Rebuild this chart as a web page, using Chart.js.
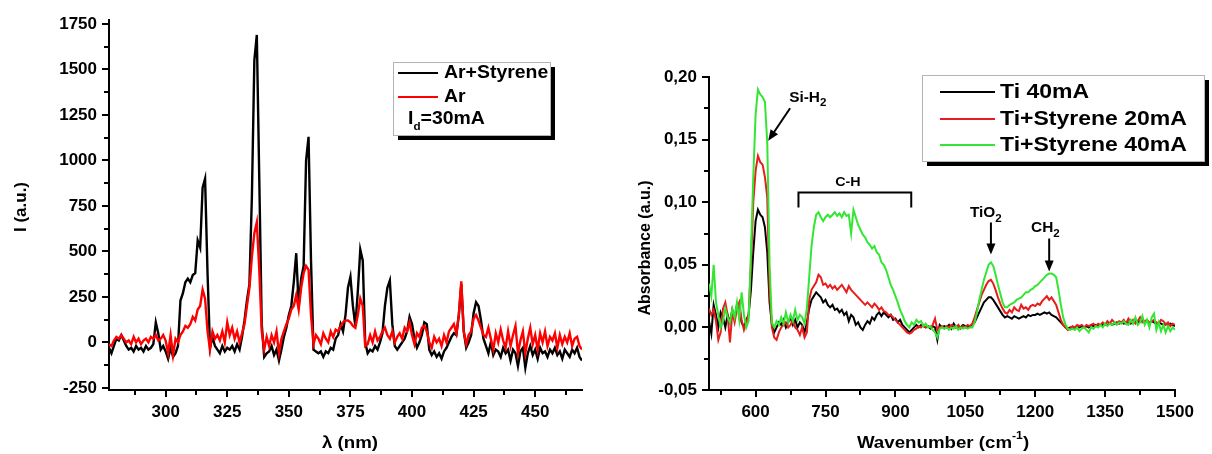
<!DOCTYPE html>
<html><head><meta charset="utf-8">
<script src="https://cdn.jsdelivr.net/npm/chart.js@4.4.1/dist/chart.umd.min.js"></script>
<style>
html,body{margin:0;padding:0;background:#fff;}
#wrap{position:relative;width:1212px;height:454px;overflow:hidden;background:#fff;}
.pane{position:absolute;top:0;height:454px;}
</style></head><body>
<div id="wrap">
<div class="pane" style="left:0;width:600px;"><canvas id="c1"></canvas></div>
<div class="pane" style="left:600px;width:612px;"><canvas id="c2"></canvas></div>
</div>
<script>
// ---------- Left panel data: emission spectra ----------
const lambdaNm = [277,278,279,280,281,282,283,284,285,286,
287,288,289,290,291,292,293,294,295,296,
297,298,299,300,301,302,303,304,305,306,
307,308,309,310,311,312,313,314,315,316,
317,318,319,320,321,322,323,324,325,326,
327,328,329,330,331,332,333,334,335,336,
337,338,339,340,341,342,343,344,345,346,
347,348,349,350,351,352,353,354,355,356,
357,358,359,360,361,362,363,364,365,366,
367,368,369,370,371,372,373,374,375,376,
377,378,379,380,381,382,383,384,385,386,
387,388,389,390,391,392,393,394,395,396,
397,398,399,400,401,402,403,404,405,406,
407,408,409,410,411,412,413,414,415,416,
417,418,419,420,421,422,423,424,425,426,
427,428,429,430,431,432,433,434,435,436,
437,438,439,440,441,442,443,444,445,446,
447,448,449,450,451,452,453,454,455,456,
457,458,459,460,461,462,463,464,465,466,
467,468,469];
const intensityArStyrene = [-30,-60,-20,20,10,40,10,-20,-40,-30,
-50,-20,-40,-30,-50,-20,-40,-30,-10,110,
50,-40,-20,-50,-90,-30,-80,-60,-20,230,
270,330,350,330,370,380,560,520,850,900,
380,-30,30,-20,-40,-60,-20,-50,-30,-40,
-20,-50,-10,-40,30,120,230,320,800,1550,
1690,900,100,-80,-60,-50,-20,-70,-40,-100,
-40,30,80,150,200,330,490,200,350,420,
1000,1130,450,-40,-50,-60,-50,-80,-50,-60,
-30,-40,20,40,100,60,150,300,360,200,
90,280,510,450,0,-60,-40,-50,-20,-40,
0,50,200,300,340,100,-20,-40,-20,0,
20,60,140,100,20,-30,0,40,110,100,
-40,-70,-50,-80,-60,-90,-50,-30,0,30,
50,40,150,320,60,-30,0,40,160,220,
200,120,20,-20,-60,0,-70,-40,-50,-80,
-30,-60,-40,-100,-40,-60,-130,-50,-30,-140,
-60,-20,-70,-40,-90,-30,-60,-50,-80,-40,
-60,-30,-70,-50,-90,-40,-60,-80,-40,-60,
-30,-80,-100];
const intensityAr = [-10,-20,10,30,20,40,20,0,10,-10,
30,0,20,-10,10,20,0,30,20,40,
10,20,40,10,-60,40,-70,20,0,40,
60,90,80,100,140,120,180,200,290,240,
60,-40,60,20,40,10,60,0,110,40,
80,20,60,0,50,100,200,300,470,600,
660,400,60,-40,30,-20,40,0,60,-60,
20,60,100,130,180,200,260,180,300,380,
420,400,150,-10,40,20,-10,50,20,0,
60,30,70,60,90,110,120,120,110,90,
80,150,240,200,-20,-10,40,0,60,10,
30,60,80,40,20,60,0,30,50,20,
80,60,110,40,-10,50,30,80,90,60,
0,-30,30,0,20,-20,40,0,60,80,
100,50,150,335,60,-10,40,60,130,150,
120,80,40,30,80,20,-40,50,0,70,
10,-30,60,-20,40,90,-60,10,60,-60,
20,80,-10,40,-40,50,0,60,-20,30,
10,50,-30,40,-10,30,0,50,-20,20,
30,-20,-40];
const lambdaTicks = [300,325,350,375,400,425,450];
const lambdaTickLabels = ['300','325','350','375','400','425','450'];
const lambdaMinorTicks = [287.5,312.5,337.5,362.5,387.5,412.5,437.5,462.5];
const intensityTicks = [-250,0,250,500,750,1000,1250,1500,1750];
const intensityTickLabels = ['-250','0','250','500','750','1000','1250','1500','1750'];
const intensityMinorTicks = [-125,125,375,625,875,1125,1375,1625];

// ---------- Right panel data: FTIR absorbance ----------
const wavenumber = [500,505,510,515,520,525,530,535,540,545,
550,555,560,565,570,575,580,585,590,595,
600,605,610,615,620,625,630,635,640,645,
650,655,660,665,670,675,680,685,690,695,
700,705,710,715,720,725,730,735,740,745,
750,755,760,765,770,775,780,785,790,795,
800,805,810,815,820,825,830,835,840,845,
850,855,860,865,870,875,880,885,890,895,
900,905,910,915,920,925,930,935,940,945,
950,955,960,965,970,975,980,985,990,995,
1000,1005,1010,1015,1020,1025,1030,1035,1040,1045,
1050,1055,1060,1065,1070,1075,1080,1085,1090,1095,
1100,1105,1110,1115,1120,1125,1130,1135,1140,1145,
1150,1155,1160,1165,1170,1175,1180,1185,1190,1195,
1200,1205,1210,1215,1220,1225,1230,1235,1240,1245,
1250,1255,1260,1265,1270,1275,1280,1285,1290,1295,
1300,1305,1310,1315,1320,1325,1330,1335,1340,1345,
1350,1355,1360,1365,1370,1375,1380,1385,1390,1395,
1400,1405,1410,1415,1420,1425,1430,1435,1440,1445,
1450,1455,1460,1465,1470,1475,1480,1485,1490,1495,
1500];
const absTi40 = [0.005,-0.005,0.018,0.010,0.000,0.012,0.008,0.000,0.010,0.004,
0.014,0.008,0.018,0.012,0.004,0.000,0.006,0.010,0.030,0.060,
0.085,0.094,0.090,0.088,0.080,0.060,0.020,0.002,-0.004,0.000,
0.004,0.002,0.006,0.000,0.004,0.008,0.002,0.006,0.000,0.004,
0.002,-0.004,0.004,0.015,0.022,0.025,0.028,0.026,0.024,0.020,
0.022,0.018,0.016,0.018,0.014,0.015,0.012,0.014,0.010,0.012,
0.005,0.010,0.008,0.002,0.004,0.000,-0.002,0.002,0.005,0.003,
0.008,0.006,0.010,0.012,0.009,0.012,0.010,0.008,0.010,0.006,
0.007,0.004,0.006,0.002,0.000,-0.002,-0.004,-0.002,0.000,0.002,
0.000,0.002,0.001,0.000,0.001,-0.001,0.001,0.000,-0.010,0.002,
0.000,0.001,0.000,0.002,-0.001,0.003,0.000,0.001,0.000,0.002,
0.001,0.000,0.001,0.002,0.004,0.008,0.012,0.016,0.020,0.022,
0.024,0.024,0.022,0.019,0.016,0.013,0.010,0.008,0.009,0.008,
0.007,0.009,0.008,0.007,0.008,0.009,0.008,0.010,0.009,0.010,
0.010,0.011,0.010,0.011,0.012,0.011,0.012,0.010,0.009,0.008,
0.006,0.004,0.002,0.000,-0.001,0.000,-0.001,0.000,0.001,0.000,
0.001,0.000,0.001,0.000,0.002,0.001,0.002,0.001,0.002,0.002,
0.003,0.002,0.003,0.002,0.003,0.004,0.003,0.004,0.003,0.004,
0.004,0.003,0.004,0.005,0.004,0.005,0.006,0.004,0.005,0.004,
0.005,0.004,0.003,0.004,0.003,0.002,0.003,0.002,0.003,0.002,
0.001];
const absTiSty20 = [0.015,0.010,0.014,0.005,-0.010,-0.004,0.015,0.020,0.010,-0.012,
0.012,0.004,0.015,0.020,0.006,-0.002,0.004,0.010,0.050,0.100,
0.125,0.137,0.132,0.130,0.120,0.104,0.030,0.000,-0.008,-0.010,
-0.004,0.000,0.002,0.004,0.000,0.002,0.006,0.000,-0.002,-0.006,
0.000,-0.008,-0.004,0.022,0.030,0.033,0.036,0.042,0.040,0.034,
0.035,0.032,0.034,0.031,0.033,0.030,0.032,0.034,0.031,0.028,
0.033,0.030,0.028,0.026,0.024,0.022,0.020,0.018,0.020,0.018,
0.016,0.019,0.017,0.014,0.016,0.013,0.012,0.010,0.010,0.008,
0.006,0.004,0.002,0.000,-0.002,-0.004,-0.005,-0.004,-0.002,-0.001,
0.001,0.000,0.002,0.000,0.001,0.000,0.002,0.007,-0.002,0.000,
0.001,-0.001,0.001,0.000,0.002,0.001,0.000,0.002,-0.001,0.001,
0.000,0.002,0.001,0.003,0.008,0.014,0.020,0.026,0.030,0.034,
0.037,0.038,0.035,0.030,0.024,0.019,0.015,0.012,0.011,0.014,
0.012,0.016,0.014,0.013,0.018,0.015,0.016,0.014,0.017,0.018,
0.017,0.019,0.018,0.021,0.023,0.025,0.022,0.024,0.021,0.018,
0.012,0.006,0.002,0.000,-0.002,-0.001,0.001,0.000,0.002,0.001,
0.002,0.000,0.002,0.001,0.002,0.003,0.001,0.003,0.002,0.004,
0.002,0.005,0.003,0.006,0.004,0.003,0.005,0.004,0.006,0.003,
0.007,0.004,0.006,0.003,0.005,0.008,0.004,0.005,0.006,0.004,
0.005,0.006,0.004,0.003,0.006,0.005,0.002,0.004,0.001,0.003,
0.002];
const absTiSty40 = [0.035,0.025,0.050,0.020,0.010,0.000,0.005,0.015,0.008,0.004,
0.015,0.008,0.020,0.006,0.028,0.010,0.000,0.005,0.060,0.120,
0.170,0.190,0.186,0.184,0.180,0.148,0.050,0.004,0.000,0.005,
0.002,0.008,0.003,0.012,0.004,0.010,0.005,0.014,0.006,0.010,
0.008,0.003,0.015,0.040,0.065,0.080,0.090,0.092,0.088,0.085,
0.088,0.090,0.088,0.090,0.092,0.089,0.091,0.088,0.092,0.089,
0.090,0.075,0.094,0.088,0.082,0.078,0.074,0.072,0.068,0.066,
0.063,0.065,0.060,0.058,0.052,0.050,0.046,0.040,0.034,0.030,
0.025,0.020,0.014,0.010,0.005,0.002,0.000,0.004,0.002,0.006,
0.004,0.005,0.001,0.003,0.000,0.001,-0.002,-0.004,-0.008,-0.001,
0.000,-0.001,0.000,-0.002,0.000,-0.001,0.001,-0.002,0.000,-0.001,
0.000,-0.001,0.000,0.000,0.004,0.012,0.022,0.030,0.038,0.044,
0.050,0.052,0.049,0.042,0.034,0.027,0.020,0.016,0.016,0.018,
0.019,0.020,0.022,0.023,0.024,0.026,0.028,0.028,0.030,0.031,
0.033,0.034,0.036,0.038,0.040,0.042,0.043,0.043,0.042,0.040,
0.030,0.018,0.008,0.002,-0.001,-0.002,-0.001,-0.002,0.000,-0.003,
-0.001,0.000,-0.002,-0.004,0.000,-0.001,0.001,0.000,0.002,0.000,
0.003,0.001,0.003,0.002,0.004,0.002,0.004,0.003,0.005,0.003,
0.002,0.006,0.003,0.008,0.002,0.004,0.009,0.002,0.006,0.000,
0.008,0.011,-0.002,0.004,-0.003,0.002,-0.004,0.001,-0.003,0.000,
-0.002];
const wavenumberTicks = [600,750,900,1050,1200,1350,1500];
const wavenumberTickLabels = ['600','750','900','1050','1200','1350','1500'];
const wavenumberMinorTicks = [525,675,825,975,1125,1275,1425];
const absorbanceTicks = [-0.05,0,0.05,0.10,0.15,0.20];
const absorbanceTickLabels = ['-0,05','0,00','0,05','0,10','0,15','0,20'];
const absorbanceMinorTicks = [-0.025,0.025,0.075,0.125,0.175];

// ---------- helpers ----------
const FONT = '"Liberation Sans", Arial, sans-serif';
Chart.defaults.font.family = FONT;
function pairs(xs, ys){ return xs.map((x,i)=>({x:x, y:ys[i]})); }

// rich text: parts = [{t, s (scale), dy (em offset)}]
function rich(ctx, parts, x, y, o){
  const size = o.size, sx = o.sx || 1;
  ctx.save();
  ctx.translate(x, y);
  if (o.rot) ctx.rotate(o.rot);
  ctx.scale(sx, 1);
  ctx.fillStyle = o.color || '#000';
  ctx.textBaseline = o.baseline || 'middle';
  ctx.textAlign = 'left';
  let w = 0;
  parts.forEach(p => { const fs = size*(p.s||1); ctx.font = 'bold '+fs+'px '+FONT; p._w = ctx.measureText(p.t).width; w += p._w; });
  let cx = o.align === 'center' ? -w/2 : (o.align === 'right' ? -w : 0);
  parts.forEach(p => { const fs = size*(p.s||1); ctx.font = 'bold '+fs+'px '+FONT; ctx.fillText(p.t, cx, (p.dy||0)*size); cx += p._w; });
  ctx.restore();
}
function arrow(ctx, x0, y0, x1, y1){
  const ang = Math.atan2(y1-y0, x1-x0), L = 11, W = 4.5;
  ctx.save();
  ctx.strokeStyle = '#000'; ctx.fillStyle = '#000'; ctx.lineWidth = 2;
  ctx.beginPath(); ctx.moveTo(x0, y0);
  ctx.lineTo(x1 - Math.cos(ang)*L*0.8, y1 - Math.sin(ang)*L*0.8); ctx.stroke();
  ctx.beginPath(); ctx.moveTo(x1, y1);
  ctx.lineTo(x1 - Math.cos(ang)*L - Math.sin(ang)*W, y1 - Math.sin(ang)*L + Math.cos(ang)*W);
  ctx.lineTo(x1 - Math.cos(ang)*L + Math.sin(ang)*W, y1 - Math.sin(ang)*L - Math.cos(ang)*W);
  ctx.closePath(); ctx.fill();
  ctx.restore();
}

const decorPlugin = {
  id: 'decor',
  afterDraw(chart, args, opts){
    const ctx = chart.ctx, xs = chart.scales.x, ys = chart.scales.y, a = chart.chartArea;
    ctx.save();
    // minor ticks
    ctx.strokeStyle = '#000'; ctx.lineWidth = 2;
    opts.minorX.forEach(v => { const px = Math.round(xs.getPixelForValue(v)); ctx.beginPath(); ctx.moveTo(px, a.bottom); ctx.lineTo(px, a.bottom + 5); ctx.stroke(); });
    opts.minorY.forEach(v => { const py = Math.round(ys.getPixelForValue(v)); ctx.beginPath(); ctx.moveTo(a.left, py); ctx.lineTo(a.left - 5, py); ctx.stroke(); });
    // axis titles
    rich(ctx, opts.xTitle.parts, opts.xTitle.x, opts.xTitle.y, {size: opts.xTitle.size, sx: 1.1, align: 'center'});
    rich(ctx, opts.yTitle.parts, opts.yTitle.x, opts.yTitle.y, {size: opts.yTitle.size, align: 'center', rot: -Math.PI/2});
    // legend
    const L = opts.legend, b = L.box, w = b[2]-b[0], h = b[3]-b[1];
    ctx.fillStyle = '#000'; ctx.fillRect(b[0]+L.shadow, b[1]+L.shadow, w, h);
    ctx.fillStyle = '#fff'; ctx.fillRect(b[0], b[1], w, h);
    ctx.strokeStyle = '#b4b4b4'; ctx.lineWidth = 1; ctx.strokeRect(b[0]+0.5, b[1]+0.5, w, h);
    L.order.forEach((di, k) => {
      const ds = chart.data.datasets[di], yy = L.rows[k];
      ctx.strokeStyle = ds.borderColor; ctx.lineWidth = 2;
      ctx.beginPath(); ctx.moveTo(L.lineX0, yy); ctx.lineTo(L.lineX1, yy); ctx.stroke();
      rich(ctx, [{t: ds.label}], L.textX, yy, {size: L.size, sx: L.sx});
    });
    if (L.extra) rich(ctx, L.extra.parts, L.extra.x, L.extra.y, {size: L.size, sx: L.sx});
    // annotations in data coordinates
    (opts.notes || []).forEach(n => {
      if (n.type === 'text') rich(ctx, n.parts, xs.getPixelForValue(n.x), ys.getPixelForValue(n.y), {size: n.size, sx: 1.1, align: 'center', baseline: 'alphabetic'});
      if (n.type === 'arrow') arrow(ctx, xs.getPixelForValue(n.x0), ys.getPixelForValue(n.y0), xs.getPixelForValue(n.x1), ys.getPixelForValue(n.y1));
      if (n.type === 'bracket') {
        const l = xs.getPixelForValue(n.x0), r = xs.getPixelForValue(n.x1), t = ys.getPixelForValue(n.y), bt = ys.getPixelForValue(n.yEnd);
        ctx.strokeStyle = '#000'; ctx.lineWidth = 2;
        ctx.beginPath(); ctx.moveTo(l, bt); ctx.lineTo(l, t); ctx.lineTo(r, t); ctx.lineTo(r, bt); ctx.stroke();
      }
    });
    ctx.restore();
  }
};

function axis(min, max, ticks, labels, fit){
  return {
    type: 'linear', min: min, max: max,
    afterBuildTicks: s => { s.ticks = ticks.map(v => ({value: v})); },
    afterFit: fit,
    ticks: {color: '#000', font: {size: 17, weight: 'bold'}, padding: 5, maxRotation: 0, autoSkip: false,
            callback: (v, i) => labels[i]},
    grid: {display: true, drawOnChartArea: false, drawTicks: true, tickLength: 7, color: '#000', lineWidth: 2},
    border: {display: true, color: '#000', width: 2}
  };
}

// ---------- left chart ----------
new Chart(document.getElementById('c1'), {
  type: 'line',
  data: {datasets: [
    {label: 'Ar+Styrene', data: pairs(lambdaNm, intensityArStyrene), borderColor: '#000000', borderWidth: 2.4, pointRadius: 0, order: 1},
    {label: 'Ar', data: pairs(lambdaNm, intensityAr), borderColor: '#ff0000', borderWidth: 2.4, pointRadius: 0, order: 0}
  ]},
  options: {
    responsive: true, maintainAspectRatio: false, animation: false, devicePixelRatio: 1,
    layout: {padding: {left: 0, right: 18, top: 20, bottom: 0}},
    plugins: {legend: {display: false}, tooltip: {enabled: false},
      decor: {
        minorX: lambdaMinorTicks, minorY: intensityMinorTicks,
        xTitle: {parts: [{t: 'λ (nm)'}], x: 350, y: 443, size: 17},
        yTitle: {parts: [{t: 'I (a.u.)'}], x: 21, y: 207, size: 17},
        legend: {box: [393, 62, 550, 135], shadow: 5, order: [0, 1], rows: [73, 97], lineX0: 398, lineX1: 438, textX: 444, size: 18, sx: 1.08,
          extra: {parts: [{t: 'I'}, {t: 'd', s: 0.6, dy: 0.45}, {t: '=30mA'}], x: 408, y: 119}}
      }},
    scales: {
      x: axis(277, 469, lambdaTicks, lambdaTickLabels, s => { s.height = 64; }),
      y: axis(-262, 1772, intensityTicks, intensityTickLabels, s => { s.width = 109; })
    }
  },
  plugins: [decorPlugin]
});

// ---------- right chart ----------
new Chart(document.getElementById('c2'), {
  type: 'line',
  data: {datasets: [
    {label: 'Ti 40mA', data: pairs(wavenumber, absTi40), borderColor: '#000000', borderWidth: 2, pointRadius: 0, order: 2},
    {label: 'Ti+Styrene 20mA', data: pairs(wavenumber, absTiSty20), borderColor: '#e81c1c', borderWidth: 2, pointRadius: 0, order: 1},
    {label: 'Ti+Styrene 40mA', data: pairs(wavenumber, absTiSty40), borderColor: '#33e633', borderWidth: 2, pointRadius: 0, order: 0}
  ]},
  options: {
    responsive: true, maintainAspectRatio: false, animation: false, devicePixelRatio: 1,
    layout: {padding: {left: 0, right: 37, top: 77, bottom: 0}},
    plugins: {legend: {display: false}, tooltip: {enabled: false},
      decor: {
        minorX: wavenumberMinorTicks, minorY: absorbanceMinorTicks,
        xTitle: {parts: [{t: 'Wavenumber (cm'}, {t: '-1', s: 0.65, dy: -0.4}, {t: ')'}], x: 343, y: 443, size: 17},
        yTitle: {parts: [{t: 'Absorbance (a.u.)'}], x: 46, y: 248, size: 16},
        legend: {box: [322, 75, 604, 161], shadow: 5, order: [0, 1, 2], rows: [92, 119, 145], lineX0: 340, lineX1: 395, textX: 400, size: 20, sx: 1.15},
        notes: [
          {type: 'text', parts: [{t: 'Si-H'}, {t: '2', s: 0.75, dy: 0.3}], x: 712, y: 0.180, size: 14},
          {type: 'arrow', x0: 674, y0: 0.175, x1: 627, y1: 0.149},
          {type: 'bracket', x0: 692, x1: 934, y: 0.1078, yEnd: 0.0958},
          {type: 'text', parts: [{t: 'C-H'}], x: 798, y: 0.1126, size: 13},
          {type: 'text', parts: [{t: 'TiO'}, {t: '2', s: 0.75, dy: 0.3}], x: 1094, y: 0.0878, size: 14},
          {type: 'arrow', x0: 1105, y0: 0.0838, x1: 1105, y1: 0.0582},
          {type: 'text', parts: [{t: 'CH'}, {t: '2', s: 0.75, dy: 0.3}], x: 1222, y: 0.0758, size: 14},
          {type: 'arrow', x0: 1230, y0: 0.071, x1: 1230, y1: 0.0446}
        ]
      }},
    scales: {
      x: axis(500, 1500, wavenumberTicks, wavenumberTickLabels, s => { s.height = 64; }),
      y: axis(-0.05, 0.20, absorbanceTicks, absorbanceTickLabels, s => { s.width = 109; })
    }
  },
  plugins: [decorPlugin]
});
</script>
</body></html>
